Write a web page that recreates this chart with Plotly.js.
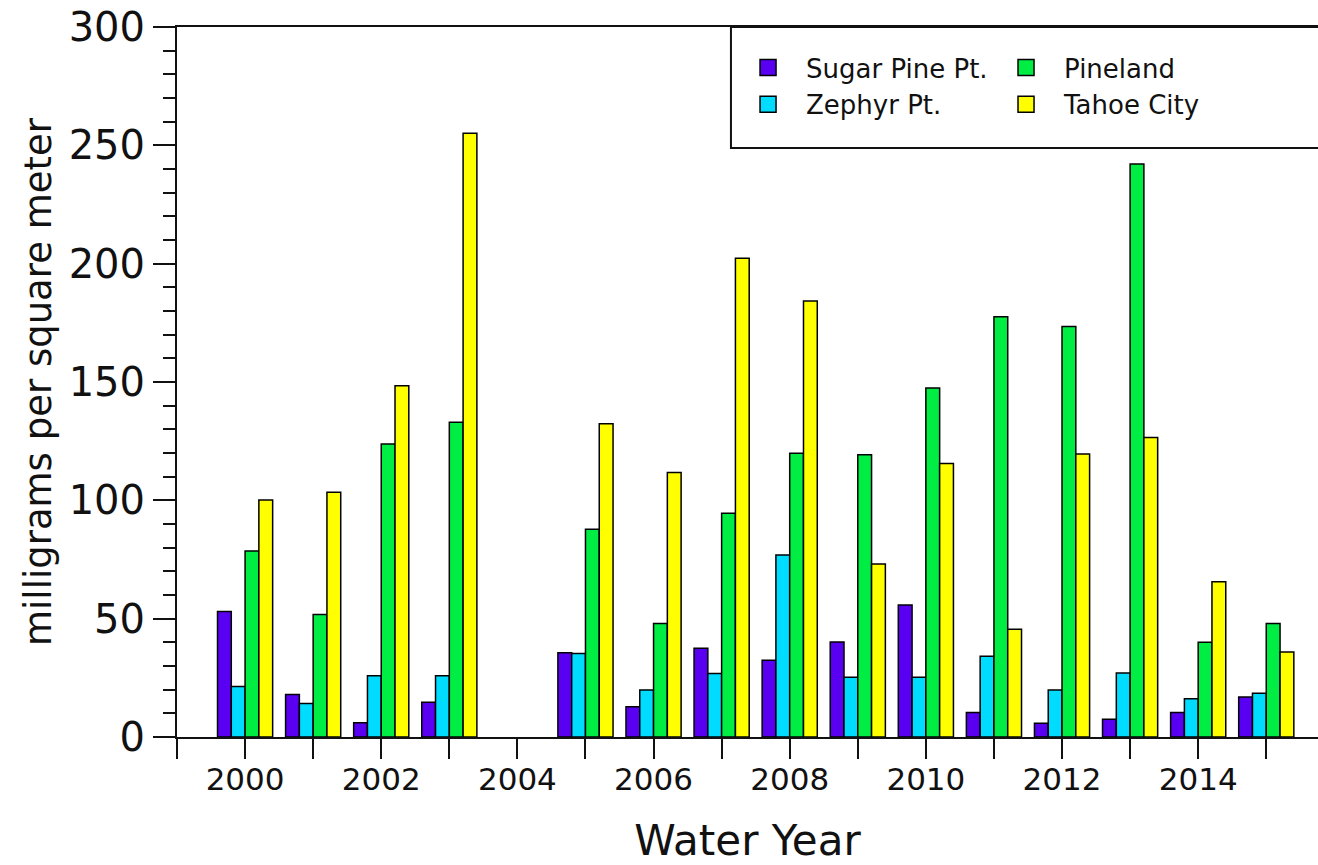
<!DOCTYPE html>
<html>
<head>
<meta charset="utf-8">
<script src="https://cdn.plot.ly/plotly-3.0.1.min.js"></script>
<style>html,body{margin:0;padding:0;background:#fff;}#chart{width:1318px;height:865px;}</style>
</head>
<body>
<div id="chart"></div>
<script>
var years = [2000, 2001, 2002, 2003, 2004, 2005, 2006, 2007, 2008, 2009, 2010, 2011, 2012, 2013, 2014, 2015];
var sugarPine = [53.0, 18.0, 6.0, 14.7, null, 35.6, 12.8, 37.5, 32.4, 40.1, 55.8, 10.3, 5.8, 7.5, 10.3, 16.9];
var zephyr    = [21.3, 14.2, 25.9, 25.9, null, 35.3, 19.9, 26.8, 76.9, 25.2, 25.2, 34.1, 19.9, 27.0, 16.2, 18.5];
var pineland  = [78.6, 51.8, 123.8, 133.0, null, 87.8, 48.0, 94.5, 119.9, 119.3, 147.5, 177.6, 173.5, 242.1, 40.0, 48.0];
var tahoeCity = [100.1, 103.4, 148.4, 255.1, null, 132.4, 111.8, 202.3, 184.2, 73.1, 115.6, 45.5, 119.6, 126.6, 65.6, 35.9];
var seriesNames = ['Sugar Pine Pt.', 'Zephyr Pt.', 'Pineland', 'Tahoe City'];
var xTickVals = [2000, 2002, 2004, 2006, 2008, 2010, 2012, 2014];
var xTickText = ['2000', '2002', '2004', '2006', '2008', '2010', '2012', '2014'];

var colors = ['#5a00f2', '#00dcff', '#00ee44', '#ffff00'];
var seriesVals = [sugarPine, zephyr, pineland, tahoeCity];
var legendIds = ['legend', 'legend', 'legend2', 'legend2'];
var FONT = 'DejaVu Sans, sans-serif';

var traces = [];
seriesVals.forEach(function (vals, i) {
  traces.push({
    type: 'bar', x: years, y: vals, name: seriesNames[i], showlegend: false,
    marker: {color: colors[i], line: {color: '#000', width: 1.5}},
    hoverinfo: 'x+y+name'
  });
});
seriesVals.forEach(function (vals, i) {
  traces.push({
    type: 'scatter', mode: 'markers', x: [null], y: [null], name: seriesNames[i],
    legend: legendIds[i], showlegend: true,
    marker: {symbol: 'square', size: 16, color: colors[i], line: {color: '#000', width: 1.5}}
  });
});

var legendFont = {family: FONT, size: 26, color: '#111'};
var layout = {
  width: 1318, height: 865,
  margin: {l: 177, r: 0, t: 27, b: 128},
  paper_bgcolor: '#fff', plot_bgcolor: '#fff',
  barmode: 'group', bargap: 0.19, bargroupgap: 0,
  font: {family: FONT, color: '#111'},
  xaxis: {
    type: 'linear', range: [1999, 2015.76],
    tickmode: 'array', tickvals: xTickVals, ticktext: xTickText,
    ticks: 'outside', ticklen: 20, tickwidth: 2, tickcolor: '#111',
    ticklabelstandoff: -6,
    minor: {dtick: 1, tick0: 2000, ticks: 'outside', ticklen: 20, tickwidth: 2, tickcolor: '#111'},
    showline: true, linecolor: '#111', linewidth: 2, mirror: true,
    showgrid: false, zeroline: false,
    tickfont: {family: FONT, size: 31, color: '#111'},
    title: {text: 'Water Year', font: {family: FONT, size: 42, color: '#111'}, standoff: 34}
  },
  yaxis: {
    range: [0, 300], dtick: 50, tick0: 0,
    ticks: 'outside', ticklen: 22, tickwidth: 2, tickcolor: '#111',
    minor: {dtick: 10, ticks: 'outside', ticklen: 12, tickwidth: 2, tickcolor: '#111'},
    showline: true, linecolor: '#111', linewidth: 2,
    showgrid: false, zeroline: false,
    tickfont: {family: FONT, size: 40, color: '#111'},
    title: {text: 'milligrams per square meter', font: {family: FONT, size: 37, color: '#111'}, standoff: 6}
  },
  legend: {
    x: 0.4847, y: 0.976, xanchor: 'left', yanchor: 'top',
    bgcolor: 'rgba(0,0,0,0)', borderwidth: 0, font: legendFont, itemwidth: 66, tracegroupgap: 0
  },
  legend2: {
    x: 0.7108, y: 0.976, xanchor: 'left', yanchor: 'top',
    bgcolor: 'rgba(0,0,0,0)', borderwidth: 0, font: legendFont, itemwidth: 66, tracegroupgap: 0
  },
  shapes: [{
    type: 'rect', xref: 'paper', yref: 'paper', x0: 0.4855, x1: 1.02, y0: 0.8296, y1: 1,
    line: {color: '#111', width: 2}, fillcolor: '#fff', layer: 'below'
  }]
};

Plotly.newPlot('chart', traces, layout, {displayModeBar: false, staticPlot: true});
</script>
</body>
</html>
